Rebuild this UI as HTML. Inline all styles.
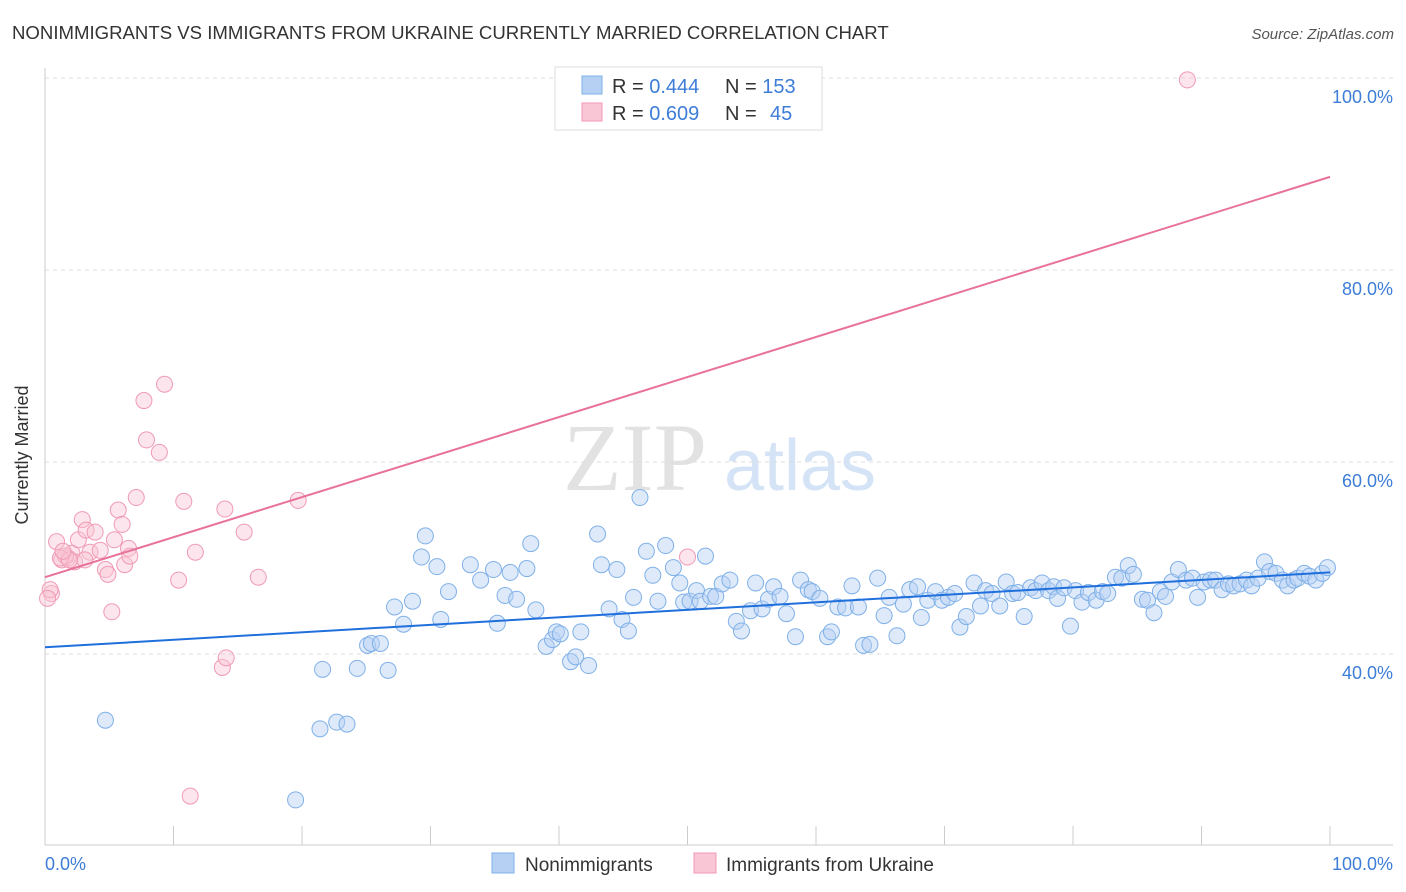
<!DOCTYPE html>
<html><head><meta charset="utf-8"><style>
body{margin:0;background:#fff;font-family:"Liberation Sans",sans-serif;}
svg{display:block}
</style></head><body>
<svg id="chart" width="1406" height="892" xmlns="http://www.w3.org/2000/svg">
<text x="12" y="39" font-size="18.6" fill="#333">NONIMMIGRANTS VS IMMIGRANTS FROM UKRAINE CURRENTLY MARRIED CORRELATION CHART</text>
<text x="1394" y="39" font-size="15" fill="#555" font-style="italic" text-anchor="end">Source: ZipAtlas.com</text>
<text x="28" y="455" font-size="18" fill="#333" transform="rotate(-90 28 455)" text-anchor="middle">Currently Married</text>
<g>
<text x="635" y="490" font-size="96" font-family="Liberation Serif,serif" fill="#e2e2e2" text-anchor="middle">ZIP</text>
<text x="800" y="490" font-size="72" fill="#d4e3f5" text-anchor="middle">atlas</text>
</g>
<g id="grid"></g><g id="marks"></g>
<g>
<rect x="555" y="67" width="267" height="63" fill="#fff" stroke="#ddd"/>
<rect x="582" y="76" width="20" height="18" fill="#b5d0f3" stroke="#7fb0e8"/>
<rect x="582" y="103" width="20" height="18" fill="#f9c6d5" stroke="#f09ab5"/>
<text x="612" y="93" font-size="20" fill="#333">R = <tspan fill="#3d7dd8">0.444</tspan><tspan x="725">N = </tspan><tspan fill="#3d7dd8">153</tspan></text>
<text x="612" y="120" font-size="20" fill="#333">R = <tspan fill="#3d7dd8">0.609</tspan><tspan x="725">N = </tspan><tspan x="770" fill="#3d7dd8">45</tspan></text>
</g>
<g>
<rect x="492" y="853" width="22" height="20" fill="#b5d0f3" stroke="#7fb0e8"/>
<text x="525" y="871" font-size="19" fill="#333">Nonimmigrants</text>
<rect x="694" y="853" width="22" height="20" fill="#f9c6d5" stroke="#f09ab5"/>
<text x="726" y="871" font-size="19" fill="#333">Immigrants from Ukraine</text>
</g>
</svg>
<script>
const blueX=[4.7,19.5,21.4,22.7,23.5,21.6,24.3,25.1,25.4,26.1,26.7,27.2,27.9,28.6,29.3,29.6,30.5,31.4,30.8,33.1,33.9,34.9,35.2,35.8,36.2,36.7,37.5,37.8,38.2,39.0,39.5,39.8,40.1,40.9,41.3,42.3,41.7,43.0,43.3,43.9,44.5,44.9,45.4,45.8,46.3,46.8,47.3,47.7,48.3,48.9,49.4,49.7,50.2,50.7,51.0,51.4,51.8,52.2,52.7,53.3,53.8,54.2,54.9,55.3,55.8,56.3,56.7,57.2,57.7,58.4,58.8,59.4,59.7,60.3,60.9,61.2,61.7,62.3,62.8,63.3,63.7,64.2,64.8,65.3,65.7,66.3,66.8,67.3,67.9,68.2,68.7,69.3,69.8,70.3,70.8,71.2,71.7,72.3,72.8,73.2,73.7,74.3,74.8,75.3,75.7,76.2,76.7,77.1,77.6,78.1,78.5,78.8,79.3,79.8,80.2,80.7,81.2,81.8,82.3,82.7,83.3,83.8,84.3,84.7,85.4,85.8,86.3,86.8,87.2,87.7,88.2,88.8,89.3,89.7,90.2,90.7,91.1,91.6,92.1,92.5,93.0,93.5,93.9,94.4,94.9,95.3,95.8,96.3,96.7,97.2,97.5,98.0,98.4,98.9,99.4,99.8];
const blueY=[33.1,24.8,32.2,32.9,32.7,38.4,38.5,40.9,41.1,41.1,38.3,44.9,43.1,45.5,50.1,52.3,49.1,46.5,43.6,49.3,47.7,48.8,43.2,46.1,48.5,45.7,48.9,51.5,44.6,40.8,41.5,42.3,42.1,39.2,39.7,38.8,42.3,52.5,49.3,44.7,48.8,43.6,42.4,45.9,56.3,50.7,48.2,45.5,51.3,49.0,47.4,45.4,45.5,46.6,45.5,50.2,46.0,46.0,47.3,47.7,43.4,42.4,44.5,47.4,44.7,45.7,47.0,46.0,44.2,41.8,47.7,46.7,46.5,45.8,41.8,42.3,44.9,44.8,47.1,44.9,40.9,41.0,47.9,44.0,45.9,41.9,45.2,46.7,47.0,43.8,45.6,46.5,45.6,45.9,46.3,42.8,43.9,47.4,45.0,46.6,46.3,45.0,47.5,46.3,46.4,43.9,46.9,46.6,47.4,46.6,47.0,45.8,46.9,42.9,46.6,45.4,46.4,45.6,46.5,46.3,48.0,47.9,49.2,48.3,45.7,45.6,44.3,46.5,46.0,47.5,48.8,47.7,47.9,45.9,47.5,47.7,47.7,46.7,47.3,47.1,47.3,47.7,47.1,47.9,49.6,48.6,48.4,47.7,47.1,47.7,47.9,48.4,48.1,47.7,48.4,49.0];
const pinkX=[0.5,0.4,0.2,0.9,1.3,1.8,2.1,2.3,2.6,2.9,3.2,3.5,3.9,4.3,4.7,4.9,5.2,5.4,5.7,6.0,6.2,6.5,6.6,7.1,7.7,7.9,8.9,9.3,10.4,10.8,11.7,13.8,14.1,14.0,15.5,16.6,19.7,11.3,50.0,88.9,1.6,1.2,3.1,1.9,1.4];
const pinkY=[46.3,46.7,45.8,51.7,49.8,50.0,50.5,49.6,51.9,54.0,52.9,50.6,52.7,50.8,48.8,48.3,44.4,51.9,55.0,53.5,49.3,51.0,50.2,56.3,66.4,62.3,61.0,68.1,47.7,55.9,50.6,38.6,39.6,55.1,52.7,48.0,56.0,25.2,50.1,99.8,50.2,50.0,49.8,49.8,50.7];
const blueTrend=[40.7,48.5];
const pinkTrend=[48.0,89.7];
const yTicks=[100,80,60,40];
const xTickLabels=["0.0%","100.0%"];
const NS="http://www.w3.org/2000/svg";
const sx=v=>45+v*12.85;
const sy=v=>1038-v*9.6;
function mk(t,a,p){const e=document.createElementNS(NS,t);for(const k in a)e.setAttribute(k,a[k]);p.appendChild(e);return e;}
const grid=document.getElementById('grid'),marks=document.getElementById('marks');
yTicks.forEach(t=>{
  const l=mk('line',{x1:45,x2:1393,y1:sy(t),y2:sy(t),stroke:'#ddd','stroke-dasharray':'4 4'},grid);
  
  
  const tx=mk('text',{x:1393,y:sy(t)+25,'font-size':18,fill:'#3d7dd8','text-anchor':'end'},grid);
  tx.textContent=t.toFixed(1)+'%';
  
  
});
const ax=mk('line',{x1:45,x2:1393,y1:845,y2:845,stroke:'#ccc'},grid);


const ay=mk('line',{x1:45,x2:45,y1:68,y2:845,stroke:'#ccc'},grid);


for(let i=0;i<=10;i++){
  const tk=mk('line',{x1:sx(i*10),x2:sx(i*10),y1:826,y2:845,stroke:'#ccc'},grid);
  
  
}
[[0,'start',45],[100,'end',1393]].forEach((d,i)=>{
  const t=mk('text',{x:d[2],y:870,'font-size':18,fill:'#3d7dd8','text-anchor':d[1]},grid);
  t.textContent=xTickLabels[i];
  
  
});
function pts(X,Y,fill,stroke,name){
  X.forEach((x,i)=>{
    const c=mk('circle',{cx:sx(x),cy:sy(Y[i]),r:8,fill:fill,'fill-opacity':0.45,stroke:stroke,'stroke-width':1},marks);
    
    
  });
}
pts(pinkX,pinkY,'#f9c6d5','#f09ab5','point-ukraine');
pts(blueX,blueY,'#b5d0f3','#7fb0e8','point-nonimmigrant');
const bl=mk('line',{x1:sx(0),y1:sy(blueTrend[0]),x2:sx(100),y2:sy(blueTrend[1]),stroke:'#1f6fdc','stroke-width':2},marks);


const pl=mk('line',{x1:sx(0),y1:sy(pinkTrend[0]),x2:sx(100),y2:sy(pinkTrend[1]),stroke:'#e8729a','stroke-width':2},marks);


</script>
</body></html>
